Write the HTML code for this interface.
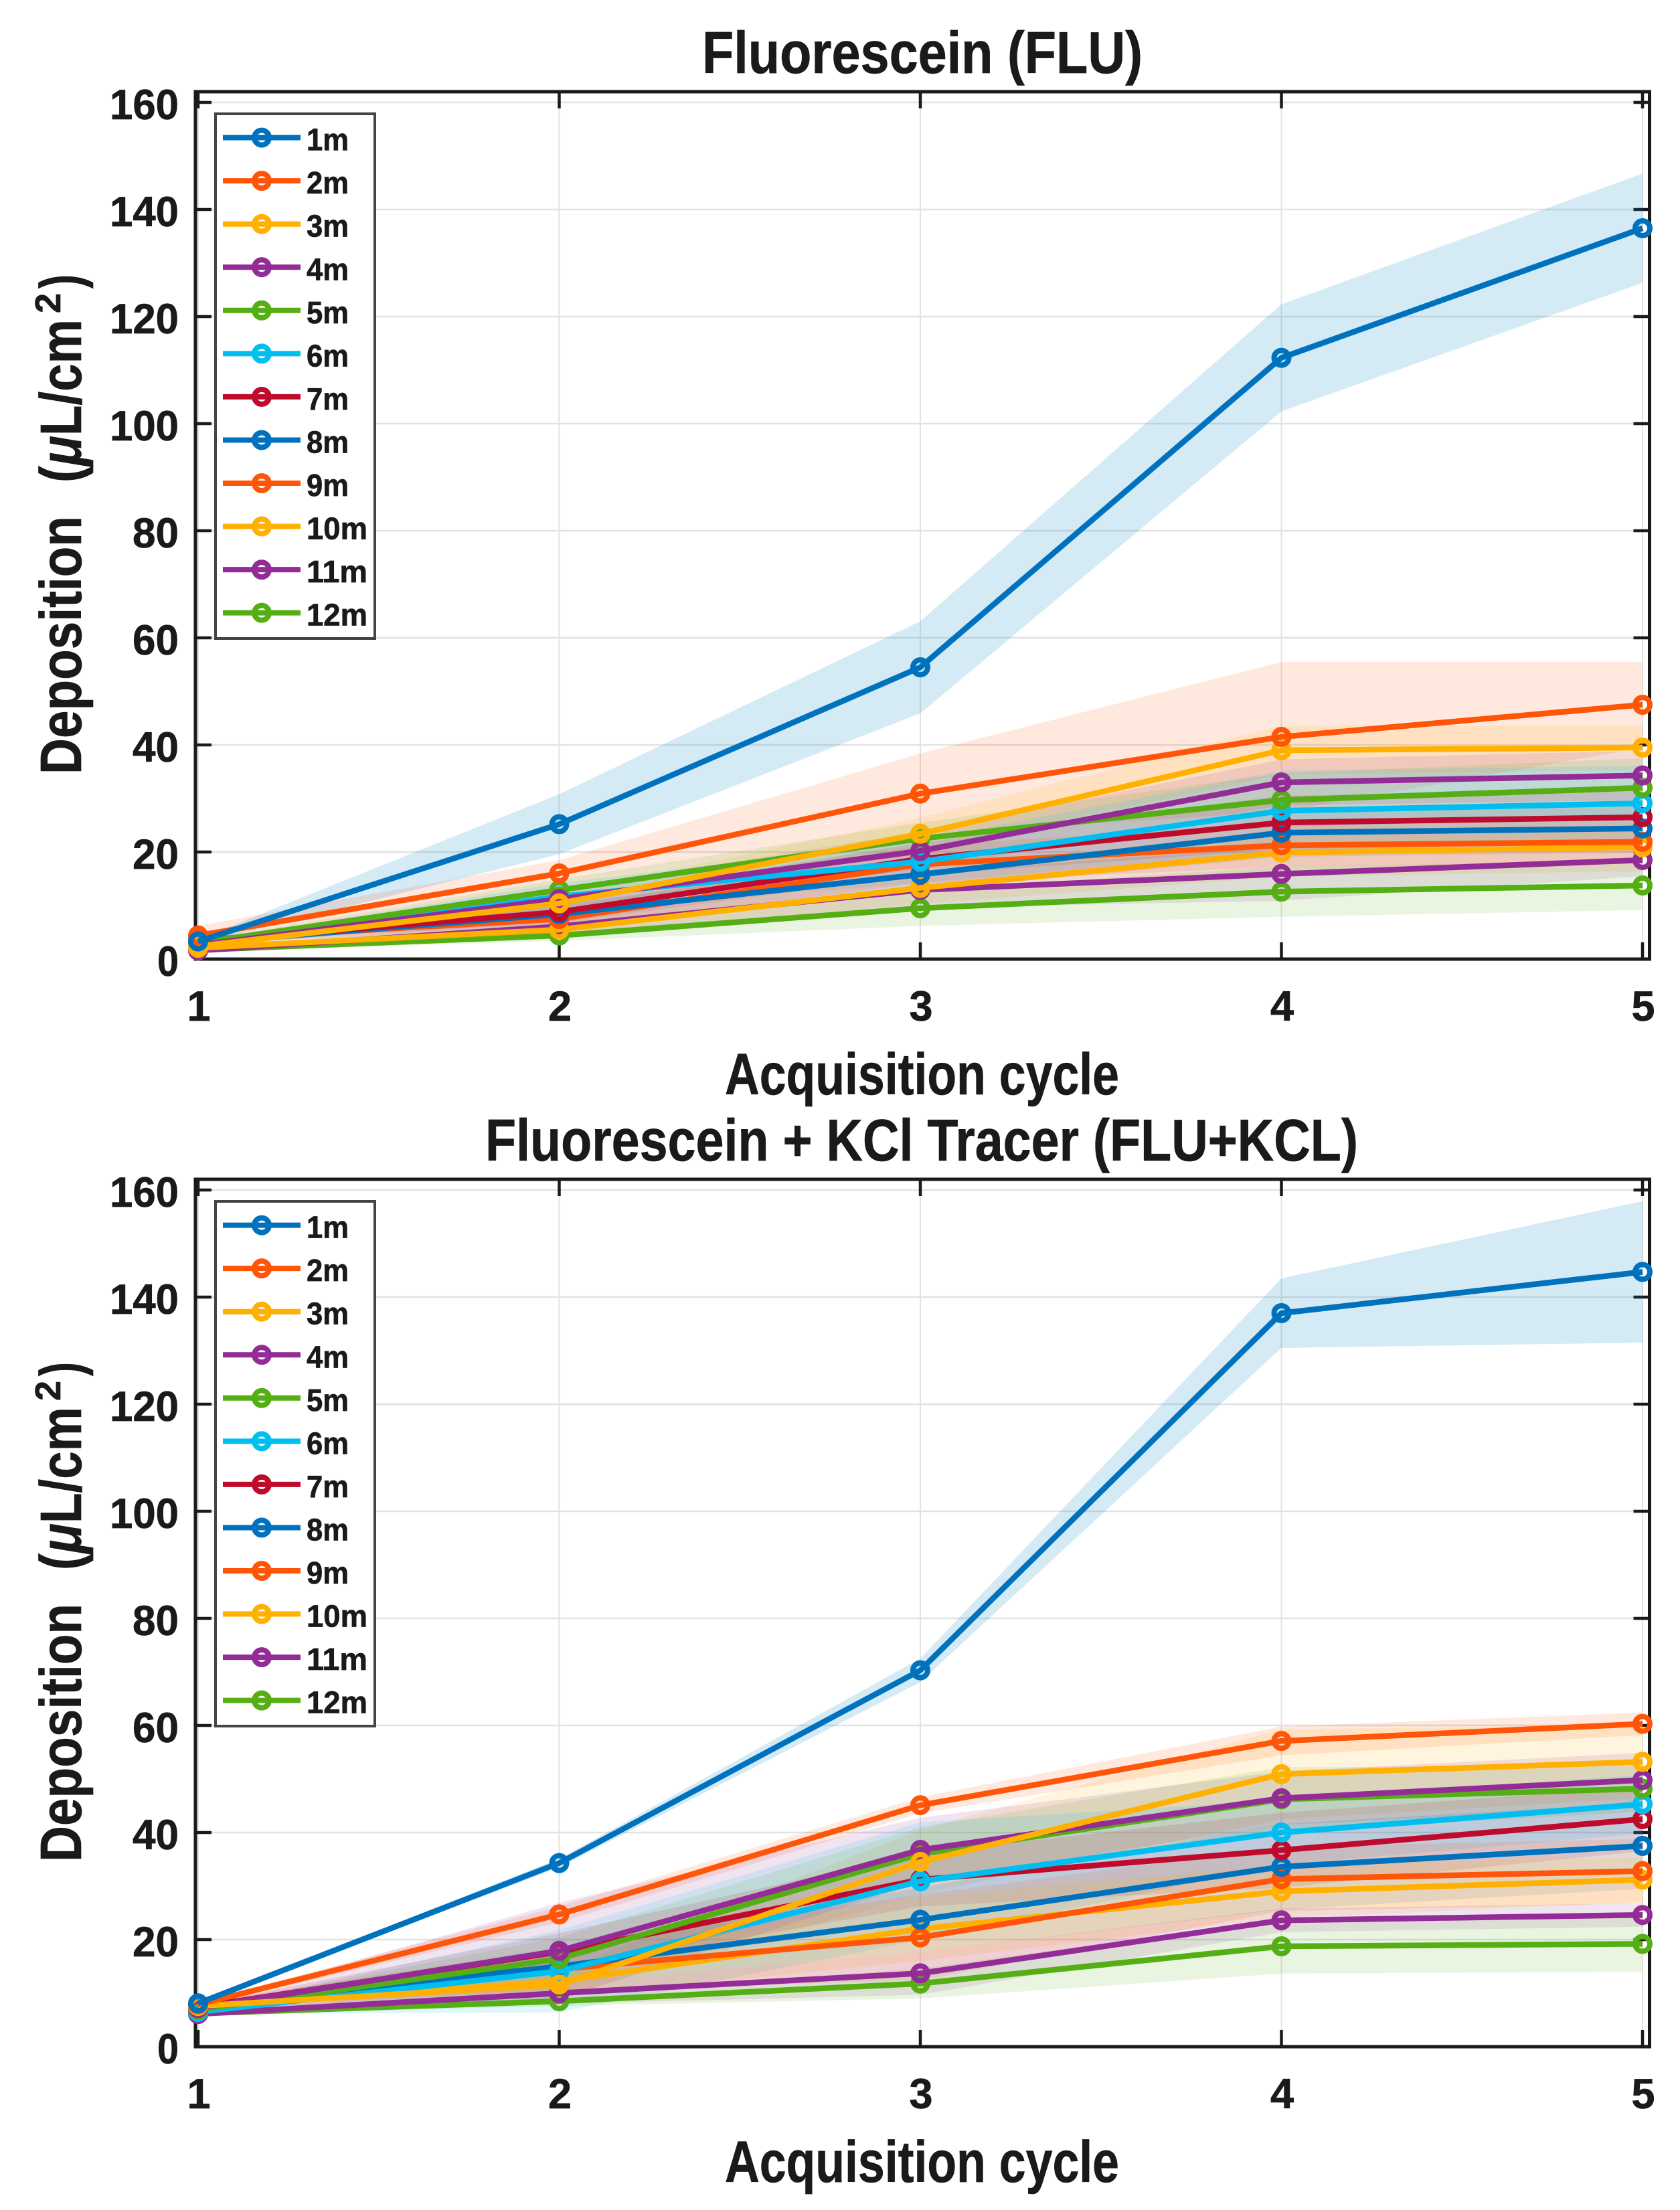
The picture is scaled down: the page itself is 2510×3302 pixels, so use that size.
<!DOCTYPE html>
<html lang="en">
<head>
<meta charset="utf-8">
<title>Fluorescein deposition charts</title>
<style>
html,body{margin:0;padding:0;background:#fff;}
svg{display:block;}
text{font-family:"Liberation Sans",sans-serif;font-weight:bold;fill:#1a1a1a;stroke:#1a1a1a;stroke-width:0.7px;}
</style>
</head>
<body>
<svg id="chart" xmlns="http://www.w3.org/2000/svg" width="2510" height="3302" viewBox="0 0 2510 3302"></svg>
<script>
const seriesLabels = ['1m','2m','3m','4m','5m','6m','7m','8m','9m','10m','11m','12m'];
const seriesColors = ['#0072bd','#ff5508','#ffb000','#932c96','#55ae14','#00bff0','#c00a2c','#0072bd','#ff5508','#ffb000','#932c96','#55ae14'];
const xTicks = [1,2,3,4,5];
const yTicks = [0,20,40,60,80,100,120,140,160];

const fluTitle = 'Fluorescein (FLU)';
const fluMeans = [
 [3.3,25.2,54.5,112.3,136.5],
 [4.4,16.0,30.9,41.5,47.5],
 [2.4,10.4,23.4,39.0,39.5],
 [2.6,11.2,20.2,33.0,34.3],
 [3.0,12.9,22.5,29.7,32.0],
 [2.8,11.7,18.2,27.7,29.1],
 [3.2,8.8,18.7,25.5,26.5],
 [3.0,8.4,15.8,23.6,24.4],
 [3.6,7.5,17.7,21.25,21.9],
 [2.1,5.5,13.3,19.9,20.9],
 [1.6,6.1,12.9,15.9,18.5],
 [1.7,4.4,9.5,12.6,13.75]
];
const fluErrors = [
 [0.4,5.6,8.6,10,10.2],
 [1.8,2.5,7.5,14,8],
 [0.4,1.8,3,4.6,4.2],
 [0.4,2,3.5,4.3,4.6],
 [0.5,2,3,5,5.5],
 [0.4,2.5,4,7.5,7],
 [0.5,2,3,5,5],
 [0.5,1.8,3,4.5,4.5],
 [0.6,2,3.5,4,4],
 [0.3,1.5,3,4.5,4.5],
 [0.3,1.5,3.3,5,3],
 [0.3,1,3.3,4.7,4.6]
];

const kclTitle = 'Fluorescein + KCl Tracer (FLU+KCL)';
const kclMeans = [
 [8.1,34.3,70.3,137,144.7],
 [7.9,24.7,45.1,57.1,60.3],
 [7.6,11.6,34.5,50.9,53.2],
 [7.2,17.9,36.75,46.4,49.8],
 [6.9,16.4,36,46.2,48.2],
 [6.5,14.1,30.9,40,45.3],
 [7.4,17.7,31.2,36.7,42.5],
 [7.7,15,23.7,33.6,37.5],
 [7.8,14.5,20.4,31.3,32.8],
 [7.5,12.2,22,29,31.2],
 [6.1,10,13.7,23.6,24.6],
 [6.2,8.5,11.8,18.75,19.2]
];
const kclErrors = [
 [0.3,0.8,2.2,6.5,13.2],
 [0.4,1.5,1.5,2.7,2.1],
 [0.4,2.5,6,8.4,6.8],
 [0.5,9,6,5,5.1],
 [0.4,4,5,6,4.3],
 [0.4,7.7,11,6,5.5],
 [0.4,3.5,5,7,6],
 [0.4,3,6,8,8],
 [0.4,4,8,6,6],
 [0.4,3,6,5,4.2],
 [0.3,2,4,2.2,2.2],
 [0.3,0.9,2.8,5.1,5.2]
];

const svg = document.getElementById('chart');
const NS = 'http://www.w3.org/2000/svg';
const plotLeft = 292, plotRight = 2464.5, xOne = 296, xFive = 2454;

function make(parent, tag, attrs, text) {
  const el = document.createElementNS(NS, tag);
  for (const k in attrs) el.setAttribute(k, attrs[k]);
  if (text !== undefined) el.textContent = text;
  parent.appendChild(el);
  return el;
}
function xPos(v) { return xOne + (v - 1) * (xFive - xOne) / 4; }

function drawPanel(prefix, title, titleX, titleLen, means, errors, dy) {
  const base = 1433 + dy, top = 137 + dy;
  const yPos = v => base - v * 8;
  const g = make(svg, 'g', {});
  
  

  const titleEl = make(g, 'text', {x:titleX, y:109 + dy, 'font-size':88, textLength:titleLen, lengthAdjust:'spacingAndGlyphs'}, title);
  
  

  const grid = make(g, 'g', {stroke:'#e2e2e2', 'stroke-width':2.5});
  
  
  yTicks.forEach(t => make(grid, 'line', {x1:plotLeft, x2:plotRight, y1:yPos(t), y2:yPos(t)}));
  xTicks.forEach(t => make(grid, 'line', {x1:xPos(t), x2:xPos(t), y1:top, y2:base, 'stroke-width':2}));

  const axes = make(g, 'g', {stroke:'#1a1a1a', 'stroke-width':4.5, fill:'none'});
  
  
  yTicks.forEach(t => {
    make(axes, 'line', {x1:plotLeft, x2:plotLeft + 24, y1:yPos(t), y2:yPos(t)});
    make(axes, 'line', {x1:plotRight, x2:plotRight - 24, y1:yPos(t), y2:yPos(t)});
  });
  xTicks.forEach(t => {
    make(axes, 'line', {x1:xPos(t), x2:xPos(t), y1:base, y2:base - 25});
    make(axes, 'line', {x1:xPos(t), x2:xPos(t), y1:top, y2:top + 25});
  });
  make(axes, 'rect', {x:plotLeft, y:top, width:plotRight - plotLeft, height:base - top, 'stroke-width':5});

  yTicks.forEach(t => {
    const lab = make(g, 'text', {x:267, y:yPos(t) + 25, 'font-size':63, 'text-anchor':'end', textLength:t >= 100 ? 103 : t > 0 ? 69 : 32, lengthAdjust:'spacingAndGlyphs'}, String(t));
    
    
  });
  xTicks.forEach(t => {
    const lab = make(g, 'text', {x:xPos(t) + 1, y:base + 92, 'font-size':63, 'text-anchor':'middle'}, String(t));
    
    
  });

  const xTitle = make(g, 'text', {x:1083, y:1635 + dy, 'font-size':87, textLength:589, lengthAdjust:'spacingAndGlyphs'}, 'Acquisition cycle');
  
  

  const yTitle = make(g, 'g', {});
  
  
  make(yTitle, 'text', {transform:'translate(121,' + (1157 + dy) + ') rotate(-90)', 'font-size':87, textLength:386, lengthAdjust:'spacingAndGlyphs'}, 'Deposition');
  const unit = make(yTitle, 'text', {transform:'translate(121,' + (721 + dy) + ') rotate(-90)', 'font-size':87, textLength:244, lengthAdjust:'spacingAndGlyphs'});
  unit.appendChild(document.createTextNode('('));
  make(unit, 'tspan', {'font-style':'italic'}, '\u03bc');
  unit.appendChild(document.createTextNode('L/cm'));
  make(yTitle, 'text', {transform:'translate(90,' + (468 + dy) + ') rotate(-90)', 'font-size':54}, '2');
  make(yTitle, 'text', {transform:'translate(121,' + (431 + dy) + ') rotate(-90)', 'font-size':87, textLength:21, lengthAdjust:'spacingAndGlyphs'}, ')');

  means.forEach((vals, i) => {
    const upper = vals.map((v, j) => xPos(xTicks[j]) + ',' + yPos(v + errors[i][j]));
    const lower = vals.map((v, j) => xPos(xTicks[j]) + ',' + yPos(v - errors[i][j])).reverse();
    const band = make(g, 'polygon', {points:upper.concat(lower).join(' '), fill:i === 0 ? '#0084c6' : seriesColors[i], 'fill-opacity':i === 0 ? 0.17 : 0.13});
    
    
  });

  for (let i = means.length - 1; i >= 0; i--) {
    const s = make(g, 'g', {fill:'none', stroke:seriesColors[i]});
    
    
    const pts = means[i].map((v, j) => xPos(xTicks[j]) + ',' + yPos(v)).join(' ');
    make(s, 'polyline', {points:pts, 'stroke-width':8.5, 'stroke-linejoin':'round'});
    means[i].forEach((v, j) => make(s, 'circle', {cx:xPos(xTicks[j]), cy:yPos(v), r:11, 'stroke-width':8}));
  }

  const legend = make(g, 'g', {});
  
  
  make(legend, 'rect', {x:322, y:170 + dy, width:238, height:784, fill:'#fff', stroke:'#444', 'stroke-width':4});
  seriesLabels.forEach((lab, i) => {
    const ly = 205.6 + dy + i * 64.55;
    const e = make(legend, 'g', {});
    
    
    make(e, 'line', {x1:333, x2:449, y1:ly, y2:ly, stroke:seriesColors[i], 'stroke-width':8});
    make(e, 'circle', {cx:391, cy:ly, r:11, fill:'none', stroke:seriesColors[i], 'stroke-width':8});
    make(e, 'text', {x:458, y:ly + 19, 'font-size':46, textLength:lab.length === 2 ? 63 : 91, lengthAdjust:'spacingAndGlyphs'}, lab);
  });
}

drawPanel('flu', fluTitle, 1049, 658, fluMeans, fluErrors, 0);
drawPanel('kcl', kclTitle, 725, 1304, kclMeans, kclErrors, 1625);
</script>
</body>
</html>
